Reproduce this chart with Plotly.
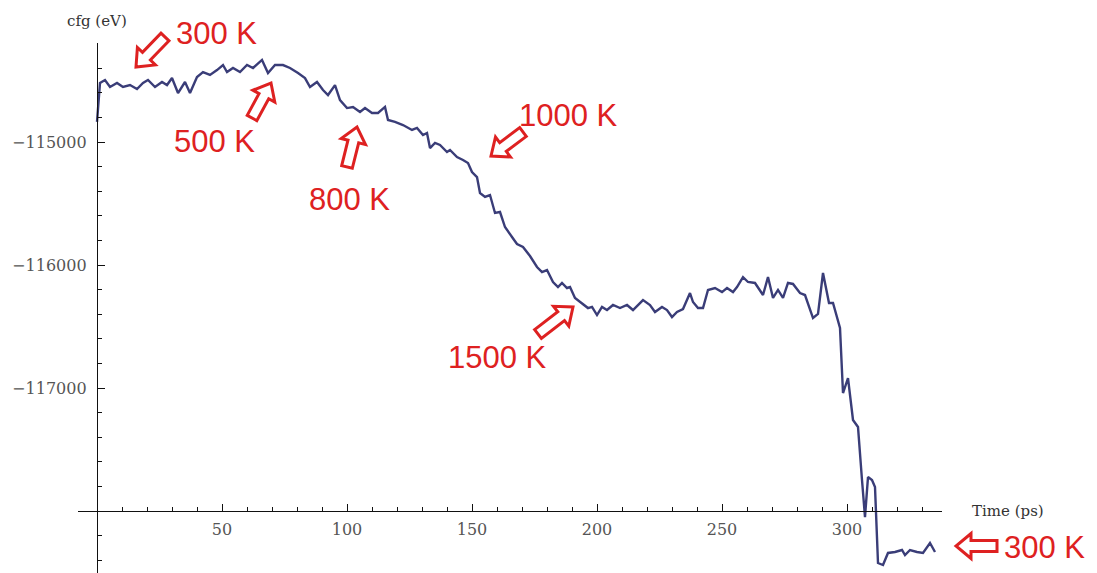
import math
import plotly.graph_objects as go

# ---- data ----
time_ps = [0, 1.2, 3.2, 5.2, 8.0, 10.4, 13.2, 16.0, 18.4, 20.4, 23.2, 26.0, 28.0, 30.0, 32.4, 35.2,
           37.2, 40.0, 42.4, 45.2, 48.0, 50.4, 52.0, 54.4, 57.2, 60.0, 62.4, 66.0, 68.4, 71.2, 74.4,
           77.2, 80.4, 83.2, 85.2, 88.0, 90.4, 92.4, 95.2, 97.2, 100.0, 102.4, 105.2, 107.2, 110.0,
           112.4, 115.2, 116.4, 119.2, 122.4, 126.0, 128.0, 130.4, 132.0, 133.2, 135.2, 137.2, 140.0,
           141.2, 144.0, 146.4, 148.4, 150.0, 152.0, 153.2, 155.2, 157.2, 159.2, 161.2, 163.2, 166.0,
           168.0, 170.4, 173.2, 176.0, 178.0, 180.0, 182.4, 184.4, 186.0, 188.0, 189.2, 191.2, 194.0,
           196.4, 198.0, 200.0, 202.0, 204.0, 206.4, 209.2, 212.0, 214.4, 218.4, 221.2, 223.2, 226.0,
           228.0, 230.0, 232.0, 234.4, 237.2, 238.4, 240.4, 242.4, 244.4, 247.2, 250.0, 252.0, 254.4,
           256.0, 258.4, 260.4, 263.2, 266.4, 268.4, 270.4, 272.4, 274.4, 276.4, 278.4, 281.2, 283.2,
           286.4, 288.4, 290.4, 292.8, 294.4, 297.2, 298.4, 300.4, 302.4, 304.4, 306.0, 307.2, 308.4,
           310.0, 311.2, 312.4, 314.4, 316.4, 319.2, 322.0, 323.2, 325.2, 328.0, 330.4, 333.2, 335.2]

energy_ev = [-114837, -114520, -114496, -114553, -114520, -114553, -114537, -114569, -114520, -114496,
             -114553, -114512, -114537, -114480, -114602, -114512, -114602, -114472, -114431, -114455,
             -114415, -114374, -114431, -114398, -114431, -114374, -114398, -114333, -114439, -114374,
             -114374, -114398, -114439, -114480, -114553, -114512, -114577, -114618, -114537, -114659,
             -114724, -114715, -114756, -114724, -114764, -114764, -114715, -114821, -114837, -114862,
             -114902, -114886, -114943, -114927, -115049, -115008, -115024, -115081, -115065, -115122,
             -115146, -115171, -115244, -115285, -115415, -115447, -115431, -115577, -115569, -115691,
             -115772, -115829, -115854, -115927, -116016, -116057, -116041, -116138, -116179, -116146,
             -116187, -116179, -116268, -116309, -116350, -116341, -116407, -116341, -116366, -116325,
             -116350, -116325, -116366, -116285, -116325, -116382, -116341, -116366, -116423, -116382,
             -116358, -116228, -116301, -116350, -116350, -116203, -116187, -116220, -116187, -116220,
             -116179, -116098, -116138, -116146, -116244, -116098, -116268, -116203, -116268, -116146,
             -116154, -116228, -116244, -116431, -116398, -116065, -116309, -116309, -116512, -117041,
             -116919, -117260, -117317, -117748, -118049, -117724, -117748, -117805, -118423, -118439,
             -118341, -118333, -118317, -118358, -118317, -118333, -118341, -118260, -118333]

x_tick_vals = [50, 100, 150, 200, 250, 300]
y_tick_vals = [-117000, -116000, -115000]

labels = ["300 K", "500 K", "800 K", "1000 K", "1500 K", "300 K"]

# ---- layout constants ----
W, H = 1097, 573
L, R, T, B = 78, 942, 43, 573
x_range = [-7.6, 338.0]
y_range = [-118504, -114195]

RED = "#de2121"
LINE = "#3a3d78"


def to_paper(px, py):
    return (px - L) / (R - L), (B - py) / (B - T)


def arrow_shape(tip, tail, w1=5.5, w2=12.5, head=15):
    tx, ty = tip
    sx, sy = tail
    Lh = math.hypot(tx - sx, ty - sy)
    dx, dy = (tx - sx) / Lh, (ty - sy) / Lh
    nx, ny = -dy, dx
    local = [(0, -w1), (Lh - head, -w1), (Lh - head, -w2), (Lh, 0),
             (Lh - head, w2), (Lh - head, w1), (0, w1)]
    pts = []
    for u, v in local:
        px = sx + u * dx + v * nx
        py = sy + u * dy + v * ny
        pts.append((px - tx, -(py - ty)))
    path = "M " + " L ".join(f"{a:.1f},{b:.1f}" for a, b in pts) + " Z"
    ax, ay = to_paper(tx, ty)
    return dict(type="path", xref="paper", yref="paper", xsizemode="pixel", ysizemode="pixel",
                xanchor=ax, yanchor=ay, path=path,
                line=dict(color=RED, width=3), fillcolor="white", layer="above")


arrows = [((136, 67), (165, 37)),
          ((271, 83), (252, 118)),
          ((357, 127), (347, 167)),
          ((491, 156), (523, 132)),
          ((573, 307), (538, 334)),
          ((956, 546), (997, 546))]
label_pos = [(216, 33), (214, 142), (349, 199), (568, 116), (497, 357), (1044, 547)]

fig = go.Figure()
fig.add_trace(go.Scatter(x=time_ps, y=energy_ev, mode="lines",
                         line=dict(color=LINE, width=2.4), hoverinfo="skip", showlegend=False))

tickfont = dict(family="DejaVu Serif, serif", size=16, color="#555555")

fig.update_layout(
    width=W, height=H, autosize=False,
    margin=dict(l=L, r=W - R, t=T, b=H - B, pad=0),
    paper_bgcolor="white", plot_bgcolor="white",
    showlegend=False,
    xaxis=dict(range=x_range, anchor="free", position=(B - 511) / (B - T),
               showline=True, linecolor="#111111", linewidth=1.4,
               ticks="inside", ticklen=7, tickwidth=1.3, tickcolor="#111111",
               tickmode="array", tickvals=x_tick_vals, tickfont=tickfont,
               showgrid=False, zeroline=False, ticklabelstandoff=4,
               minor=dict(tickmode="linear", tick0=0, dtick=10, ticks="inside",
                          ticklen=4, tickwidth=1.2, tickcolor="#111111", showgrid=False)),
    yaxis=dict(range=y_range, anchor="free", position=(97 - L) / (R - L),
               showline=True, linecolor="#111111", linewidth=1.4,
               ticks="inside", ticklen=7, tickwidth=1.3, tickcolor="#111111",
               tickmode="array", tickvals=y_tick_vals, tickfont=tickfont, tickformat="d",
               showgrid=False, zeroline=False, ticklabelstandoff=7,
               minor=dict(tickmode="linear", tick0=-118000, dtick=200, ticks="inside",
                          ticklen=4, tickwidth=1.2, tickcolor="#111111", showgrid=False)),
)

shapes = [arrow_shape(tp, tl) for tp, tl in arrows]
fig.update_layout(shapes=shapes)

annotations = []
for text, (px, py) in zip(labels, label_pos):
    x, y = to_paper(px, py)
    annotations.append(dict(x=x, y=y, xref="paper", yref="paper", text=text, showarrow=False,
                            xanchor="center", yanchor="middle",
                            font=dict(family="Liberation Sans", size=31, color=RED)))

# axis titles
x, y = to_paper(97, 21)
annotations.append(dict(x=x, y=y, xref="paper", yref="paper", text="cfg (eV)",
                        showarrow=False, xanchor="center", yanchor="middle",
                        font=dict(family="DejaVu Serif, serif", size=15, color="#333333")))
x, y = to_paper(970, 511)
annotations.append(dict(x=x, y=y, xref="paper", yref="paper", text="Time (ps)",
                        showarrow=False, xanchor="left", yanchor="middle",
                        font=dict(family="DejaVu Serif, serif", size=15, color="#333333")))
fig.update_layout(annotations=annotations)

fig.write_html("out.html")
